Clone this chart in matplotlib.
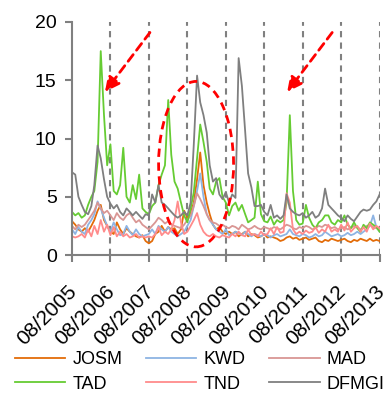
import matplotlib
matplotlib.use("Agg")
import matplotlib.pyplot as plt
import matplotlib.dates as mdates
from matplotlib.patches import Ellipse
from matplotlib.transforms import ScaledTranslation
import numpy as np
import pandas as pd

plt.rcParams['font.family'] = ['Liberation Sans', 'DejaVu Sans']

# monthly readings, 08/2005 .. 08/2013
dates = pd.date_range('2005-08-01', periods=97, freq='MS')
tick_years = list(range(2005, 2014))

josm = [2.9, 2.6, 2.2, 2.0, 2.3, 2.0, 2.5, 3.0, 3.8, 4.3, 3.0, 2.5, 2.0, 1.8, 2.8, 2.2,
        1.8, 2.3, 2.0, 1.8, 1.6, 1.5, 1.7, 1.2, 1.0, 1.2, 1.8, 2.0, 2.5, 2.0, 2.4, 2.2,
        2.3, 1.8, 2.2, 3.8, 3.2, 3.6, 4.5, 6.5, 8.8, 6.0, 4.5, 3.5, 2.6, 2.2, 2.4, 2.0,
        1.8, 2.0, 1.8, 2.0, 1.6, 1.8, 2.0, 1.6, 1.8, 1.7, 1.5, 1.6, 1.8, 1.5, 1.6, 1.5,
        1.4, 1.2, 1.3, 1.5, 1.6, 1.4, 1.5, 1.3, 1.4, 1.5, 1.3, 1.4, 1.5, 1.2, 1.1, 1.3,
        1.2, 1.4, 1.3, 1.2, 1.3, 1.4, 1.2, 1.1, 1.3, 1.2, 1.4, 1.3, 1.2, 1.4, 1.2, 1.3, 1.2]
kwd = [2.2, 1.8, 2.4, 2.0, 1.8, 2.6, 3.0, 3.5, 4.6, 4.0, 3.2, 2.5, 2.0, 2.8, 2.2, 1.7,
       1.8, 2.5, 2.0, 1.7, 2.2, 1.8, 1.6, 1.7, 1.8, 2.2, 1.8, 2.5, 2.2, 2.0, 2.4, 2.0,
       1.8, 1.6, 1.8, 2.0, 2.5, 3.0, 4.2, 5.5, 7.0, 5.0, 3.5, 3.0, 2.6, 2.2, 2.0, 1.8,
       2.2, 1.7, 1.8, 2.0, 1.9, 1.7, 2.0, 1.8, 1.6, 1.8, 1.7, 1.6, 1.8, 1.7, 1.5, 1.7,
       1.8, 1.6, 1.7, 1.8, 2.2, 1.8, 1.7, 1.6, 1.8, 1.7, 1.5, 1.6, 1.8, 1.6, 1.7, 2.0,
       1.8, 1.6, 1.7, 1.8, 1.6, 1.7, 1.9, 1.7, 1.8, 2.0, 1.8, 2.0, 2.2, 2.5, 3.4, 2.4, 2.0]
mad = [2.5, 2.2, 2.6, 2.4, 2.6, 3.0, 3.4, 3.8, 4.5, 4.0, 3.6, 3.8, 3.4, 3.0, 3.6, 3.2,
       3.0, 3.4, 3.6, 3.2, 2.8, 3.0, 2.6, 2.4, 2.2, 2.5, 2.8, 3.2, 3.0, 2.7, 2.9, 2.6,
       2.5, 2.4, 2.3, 2.6, 3.0, 3.4, 4.2, 5.3, 4.8, 4.2, 3.5, 3.0, 2.8, 2.7, 2.5, 2.6,
       2.4, 2.3, 2.5, 2.4, 2.2, 2.6, 2.4, 2.2, 2.3, 2.5, 2.3, 2.2, 2.4, 2.3, 2.2, 2.4,
       2.3, 2.2, 2.4, 2.6, 2.5, 2.3, 2.2, 2.4, 2.3, 2.5, 2.4, 2.2, 2.3, 2.5, 2.4, 2.6,
       2.5, 2.3, 2.4, 2.2, 2.3, 2.4, 2.2, 2.3, 2.5, 2.4, 2.2, 2.3, 2.5, 2.6, 2.4, 2.3, 2.2]
tad = [3.7, 3.4, 3.6, 3.2, 3.4, 4.3, 5.0, 5.5, 8.0, 17.5, 12.0, 7.7, 9.5, 5.5, 5.2, 6.0,
       9.2, 5.0, 4.5, 6.0, 4.8, 6.9, 4.0, 3.7, 3.5, 4.2, 4.5, 6.0, 6.9, 7.7, 13.3, 8.6,
       6.3, 5.7, 4.5, 3.4, 2.8, 4.0, 5.4, 8.3, 11.2, 9.7, 8.0, 5.7, 5.2, 6.3, 6.6, 5.0,
       4.5, 3.4, 4.2, 4.5, 3.8, 4.3, 3.5, 2.8, 3.0, 3.2, 6.3, 3.5, 2.9, 2.8, 3.3, 2.6,
       3.0, 2.8, 3.0, 4.5, 12.0, 5.5, 3.0, 2.6, 2.7, 4.3, 3.2, 2.6, 2.3, 2.8, 3.0, 3.4,
       3.4, 2.8, 2.6, 3.0, 2.8, 3.4, 2.6, 2.3, 2.8, 2.3, 2.0, 2.6, 2.3, 2.8, 2.6, 2.4, 2.0]
tnd = [1.6, 1.5, 1.6, 1.8, 1.5, 2.2, 1.6, 2.5, 1.8, 3.0, 2.0, 2.6, 1.7, 2.4, 1.6, 2.0,
       1.6, 1.8, 1.5, 1.6, 1.8, 1.5, 1.6, 1.5, 1.6, 1.5, 1.8, 2.4, 1.7, 2.0, 1.8, 2.2,
       3.0, 4.6, 2.8, 1.8, 2.0, 2.5, 3.0, 3.6, 2.6, 2.0, 1.7, 1.6, 1.8, 1.6, 1.5, 1.7,
       1.6, 1.5, 1.8, 1.6, 2.0, 1.7, 1.6, 2.2, 1.7, 1.8, 1.6, 2.0, 1.7, 1.8, 2.3, 1.8,
       2.4, 1.9, 2.0, 5.3, 4.5, 2.2, 1.8, 2.0, 1.8, 2.1, 1.9, 2.0, 2.4, 1.9, 2.2, 2.0,
       2.6, 2.0, 2.2, 2.0, 2.6, 2.1, 2.8, 2.0, 2.3, 2.5, 2.0, 2.4, 2.0, 2.7, 2.2, 2.5, 2.3]
dfmgi = [7.1, 6.9, 5.0, 4.3, 3.7, 3.5, 4.2, 6.0, 9.4, 8.3, 6.5, 5.0, 4.4, 4.0, 4.3, 3.7,
         3.4, 4.0, 3.7, 3.4, 3.7, 3.4, 3.1, 3.5, 3.4, 5.2, 4.5, 6.0, 4.5, 4.3, 4.0, 3.7,
         3.4, 3.2, 3.4, 3.7, 3.4, 4.5, 9.5, 15.4, 13.1, 12.0, 10.5, 7.7, 6.3, 6.6, 5.2, 4.8,
         5.4, 4.5, 5.2, 4.9, 16.9, 14.5, 10.6, 7.0, 5.8, 4.2, 4.2, 4.3, 3.7, 3.4, 4.3, 3.2,
         3.4, 3.1, 3.4, 5.2, 4.0, 3.7, 3.5, 3.4, 3.6, 3.2, 3.4, 3.7, 3.2, 3.4, 4.0, 5.7,
         4.3, 4.0, 3.7, 3.4, 3.2, 2.9, 3.4, 3.1, 2.9, 3.3, 3.7, 3.9, 3.8, 3.9, 4.3, 4.6, 5.2]

series = [('JOSM', josm, '#E36C09'), ('KWD', kwd, '#8EB4E3'), ('MAD', mad, '#D99694'),
          ('TAD', tad, '#66CC33'), ('TND', tnd, '#FF8B8B'), ('DFMGI', dfmgi, '#7F7F7F')]

fig = plt.figure(figsize=(3.85, 4.0), dpi=100)
ax = fig.add_axes([0.187, 0.3625, 0.799, 0.5825])

lines = {}
for name, vals, col in series:
    lines[name], = ax.plot(dates, vals, color=col, lw=1.3, label=name)

ticks = [pd.Timestamp(f'{y}-08-01') for y in tick_years]
for t in ticks[1:]:
    ax.axvline(t, color='#808080', lw=1.5, dashes=(3, 2.5), zorder=0)

ax.set_xlim(ticks[0], ticks[-1])
ax.set_ylim(0, 20)
ax.set_yticks([0, 5, 10, 15, 20])
ax.set_xticks(ticks)
ax.set_xticklabels([t.strftime('%m/%Y') for t in ticks], rotation=45, ha='right',
                   rotation_mode='anchor', fontsize=15)
ax.tick_params(axis='y', labelsize=14, color='#808080', width=1.5, length=5, pad=6)
ax.tick_params(axis='x', color='#808080', width=1.5, length=5, pad=11)
# nudge the rotated date labels a little down-left
shift = ScaledTranslation(-0.05, -0.05, fig.dpi_scale_trans)
for lbl in ax.get_xticklabels():
    lbl.set_transform(lbl.get_transform() + shift)
for s in ['top', 'right']:
    ax.spines[s].set_visible(False)
for s in ['left', 'bottom']:
    ax.spines[s].set_color('#808080')
    ax.spines[s].set_linewidth(1.5)

# red dashed call-outs
red = '#FF0000'
def yr(y):
    return mdates.date2num(pd.Timestamp('2005-08-01')) + (y - 2005.583) * 365.25

ax.annotate('', xy=(yr(2006.44), 14.0), xytext=(yr(2007.61), 19.1),
            arrowprops=dict(arrowstyle='-|>', color=red, lw=2, linestyle=(0, (3, 2)),
                            mutation_scale=22, shrinkA=0, shrinkB=0))
ax.annotate('', xy=(yr(2011.18), 14.0), xytext=(yr(2012.35), 19.1),
            arrowprops=dict(arrowstyle='-|>', color=red, lw=2, linestyle=(0, (3, 2)),
                            mutation_scale=22, shrinkA=0, shrinkB=0))
ax.add_patch(Ellipse((yr(2008.81), 7.8), 1.95 * 365.25, 14.2, fill=False,
                     edgecolor=red, lw=2, linestyle=(0, (3, 2)), zorder=5))

order = ['JOSM', 'TAD', 'KWD', 'TND', 'MAD', 'DFMGI']
fig.legend([lines[n] for n in order], order, loc='upper left',
           bbox_to_anchor=(0.038, 0.1225), bbox_transform=fig.transFigure,
           ncol=3, frameon=False, fontsize=13, handlelength=2.8,
           handletextpad=0.4, columnspacing=1.3, labelspacing=0.43,
           borderaxespad=0, borderpad=0)

fig.savefig('out.png', dpi=100)
